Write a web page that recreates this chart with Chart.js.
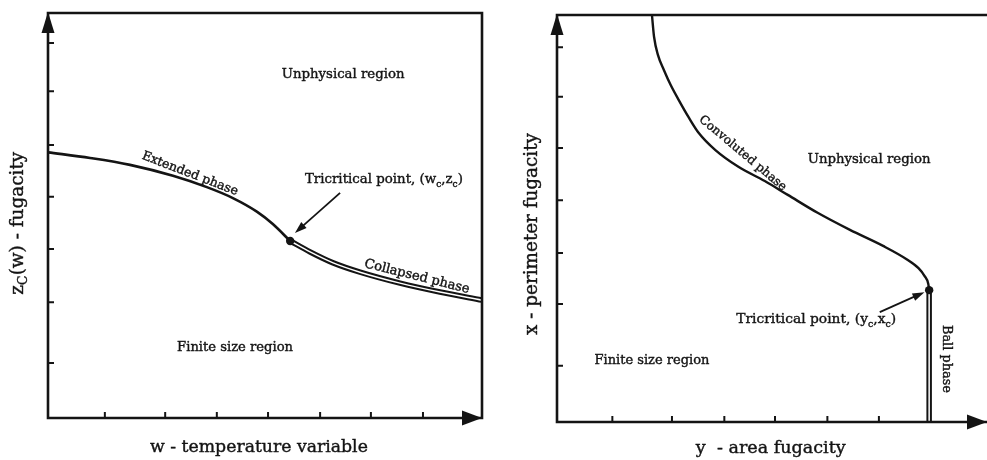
<!DOCTYPE html>
<html><head><meta charset="utf-8">
<script src="https://cdn.jsdelivr.net/npm/chart.js@4.4.0/dist/chart.umd.min.js"></script>
<style>
html,body{margin:0;padding:0;background:#fff;}
#wrap{position:relative;width:987px;height:460px;overflow:hidden;background:#fff;}
.pane{position:absolute;top:0;height:460px;}
</style></head><body>
<div id="wrap">
<div class="pane" style="left:0;width:490px"><canvas id="left"></canvas></div>
<div class="pane" style="left:490px;width:497px"><canvas id="right"></canvas></div>
</div>
<script>
// ---------- Left panel: z_c(w) versus w (arbitrary units) ----------
const wExtended  = [0.00, 0.97, 1.89, 2.88, 3.66, 4.26, 4.82, 5.18, 5.58];
const zExtended  = [6.56, 6.42, 6.25, 5.98, 5.70, 5.43, 5.09, 4.79, 4.37];
const wCollapsed = [5.58, 6.04, 6.57, 7.19, 8.11, 9.03, 10.0];
const zCollapsed = [4.37, 4.10, 3.83, 3.60, 3.33, 3.11, 2.91];
const wTricritical = [5.58];
const zTricritical = [4.37];
const wTicks = [1.31, 2.70, 3.89, 5.07, 6.27, 7.44, 8.64];
const zTicks = [1.36, 2.86, 4.17, 5.46, 6.74, 8.07, 9.26];

// ---------- Right panel: x (perimeter fugacity) versus y (area fugacity) ----------
const areaConvoluted      = [2.23, 2.28, 2.37, 2.51, 2.67, 2.86, 3.09, 3.33, 3.72, 4.26, 4.88, 5.42, 6.12, 6.88, 7.67, 8.21, 8.49, 8.63, 8.72, 8.74];
const perimeterConvoluted = [10.0, 9.46, 9.02, 8.65, 8.28, 7.91, 7.49, 7.10, 6.68, 6.27, 5.92, 5.58, 5.14, 4.72, 4.32, 4.00, 3.78, 3.59, 3.39, 3.24];
const areaBall      = [8.74, 8.74];
const perimeterBall = [3.24, 0.00];
const areaTricritical      = [8.74];
const perimeterTricritical = [3.24];
const areaTicks      = [1.30, 2.70, 3.93, 5.12, 6.35, 7.56];
const perimeterTicks = [1.38, 2.90, 4.15, 5.45, 6.73, 7.99, 9.21];

const INK = '#141414';
const pts = (xs, ys) => xs.map((v, i) => ({x: v, y: ys[i]}));

// rich text (supports subscripts), fitted to a target width
function richWidth(ctx, parts, size, family) {
  let w = 0;
  for (const [t, sub] of parts) {
    ctx.font = `${sub ? size * 0.68 : size}px ${family}`;
    w += ctx.measureText(t).width;
  }
  return w;
}
function drawRich(ctx, lab, px, py) {
  const family = lab.family;
  const base = richWidth(ctx, lab.parts, 20, family);
  const size = 20 * lab.w / base;
  const W = richWidth(ctx, lab.parts, size, family);
  ctx.save();
  ctx.translate(px, py);
  ctx.rotate((lab.rot || 0) * Math.PI / 180);
  ctx.textBaseline = 'middle';
  ctx.textAlign = 'left';
  ctx.fillStyle = INK;
  ctx.strokeStyle = INK;
  ctx.lineWidth = 0.4;
  let cx = lab.align === 'left' ? 0 : -W / 2;
  for (const [t, sub] of lab.parts) {
    const s = sub ? size * 0.68 : size;
    ctx.font = `${s}px ${family}`;
    const yy = sub ? size * 0.32 : 0;
    ctx.fillText(t, cx, yy);
    ctx.strokeText(t, cx, yy);
    cx += ctx.measureText(t).width;
  }
  ctx.restore();
}

const paperFigure = {
  id: 'paperFigure',
  afterDatasetsDraw(chart, args, o) {
    const {ctx, chartArea: a, scales: {x, y}} = chart;
    ctx.save();
    ctx.strokeStyle = INK; ctx.fillStyle = INK;
    ctx.lineWidth = 2.6; ctx.lineCap = 'square';
    ctx.beginPath();
    ctx.moveTo(a.left, a.bottom); ctx.lineTo(a.left, a.top);
    if (o.closed) {
      ctx.lineTo(a.right, a.top); ctx.lineTo(a.right, a.bottom); ctx.lineTo(a.left, a.bottom);
    } else {
      ctx.moveTo(a.left, a.top); ctx.lineTo(chart.width, a.top);
      ctx.moveTo(a.left, a.bottom); ctx.lineTo(chart.width, a.bottom);
    }
    ctx.stroke();
    // inward tick marks
    ctx.lineWidth = 2; ctx.lineCap = 'butt';
    ctx.beginPath();
    for (const v of o.xTicks) { const p = x.getPixelForValue(v); ctx.moveTo(p, a.bottom); ctx.lineTo(p, a.bottom - 6); }
    for (const v of o.yTicks) { const p = y.getPixelForValue(v); ctx.moveTo(a.left, p); ctx.lineTo(a.left + 6, p); }
    ctx.stroke();
    // arrow heads on axes
    ctx.beginPath();
    ctx.moveTo(a.left, a.top - 1); ctx.lineTo(a.left - 6.5, a.top + 20); ctx.lineTo(a.left + 6.5, a.top + 20); ctx.closePath();
    ctx.fill();
    const tipX = o.closed ? a.right : chart.width;
    ctx.beginPath();
    ctx.moveTo(tipX, a.bottom); ctx.lineTo(tipX - 20, a.bottom - 7.5); ctx.lineTo(tipX - 20, a.bottom + 7.5); ctx.closePath();
    ctx.fill();
    // pointer arrows
    for (const ar of o.arrows) {
      const x1 = x.getPixelForValue(ar.x1), y1 = y.getPixelForValue(ar.y1);
      const x2 = x.getPixelForValue(ar.x2), y2 = y.getPixelForValue(ar.y2);
      const ang = Math.atan2(y2 - y1, x2 - x1);
      ctx.lineWidth = 1.8;
      ctx.beginPath(); ctx.moveTo(x1, y1);
      ctx.lineTo(x2 - 8 * Math.cos(ang), y2 - 8 * Math.sin(ang)); ctx.stroke();
      ctx.beginPath();
      ctx.moveTo(x2, y2);
      ctx.lineTo(x2 - 12 * Math.cos(ang) + 4 * Math.sin(ang), y2 - 12 * Math.sin(ang) - 4 * Math.cos(ang));
      ctx.lineTo(x2 - 12 * Math.cos(ang) - 4 * Math.sin(ang), y2 - 12 * Math.sin(ang) + 4 * Math.cos(ang));
      ctx.closePath(); ctx.fill();
    }
    ctx.restore();
    for (const lab of o.labels) drawRich(ctx, lab, x.getPixelForValue(lab.x), y.getPixelForValue(lab.y));
  }
};

function makeChart(id, datasets, padding, fig) {
  return new Chart(document.getElementById(id), {
    type: 'scatter',
    data: {datasets},
    options: {
      responsive: true, maintainAspectRatio: false, animation: false,
      layout: {padding},
      scales: {
        x: {type: 'linear', min: 0, max: 10, display: false},
        y: {type: 'linear', min: 0, max: 10, display: false}
      },
      elements: {point: {radius: 0}},
      plugins: {legend: {display: false}, tooltip: {enabled: false}, paperFigure: fig}
    },
    plugins: [paperFigure]
  });
}

const curve = (data, width, color, order) => ({
  data, showLine: true, borderColor: color, borderWidth: width, pointRadius: 0,
  cubicInterpolationMode: 'monotone', order, borderCapStyle: 'butt'
});
const dot = (data) => ({data, showLine: false, pointRadius: 4.2, pointBackgroundColor: INK, pointBorderWidth: 0, order: 0});

const SERIF = '"DejaVu Serif", serif';

makeChart('left', [
  dot(pts(wTricritical, zTricritical)),
  curve(pts(wCollapsed, zCollapsed), 1.5, '#fff', 1),
  curve(pts(wCollapsed, zCollapsed), 5.5, INK, 2),
  curve(pts(wExtended, zExtended), 2.6, INK, 3)
], {left: 48, top: 13, right: 8, bottom: 42}, {
  closed: true, xTicks: wTicks, yTicks: zTicks,
  arrows: [{x1: 6.73, y1: 5.56, x2: 5.69, y2: 4.57}],
  labels: [
    {parts: [['Unphysical region']], x: 6.80, y: 8.49, w: 123, family: SERIF},
    {parts: [['Extended phase']], x: 3.27, y: 6.03, w: 102, rot: 21, family: SERIF},
    {parts: [['Collapsed phase']], x: 8.50, y: 3.49, w: 108, rot: 14, family: SERIF},
    {parts: [['Tricritical point, (w'], ['c', 1], [','], ['z'], ['c', 1], [')']], x: 5.92, y: 5.88, w: 158, align: 'left', family: SERIF},
    {parts: [['Finite size region']], x: 4.31, y: 1.73, w: 116, family: SERIF},
    {parts: [['w - temperature variable']], x: 4.86, y: -0.72, w: 218, family: SERIF},
    {parts: [['z'], ['C', 1], ['(w) - fugacity']], x: -0.69, y: 4.81, w: 143, rot: -90, family: SERIF}
  ]
});

makeChart('right', [
  dot(pts(areaTricritical, perimeterTricritical)),
  curve(pts(areaBall, perimeterBall), 1.5, '#fff', 1),
  curve(pts(areaBall, perimeterBall), 5.5, INK, 2),
  curve(pts(areaConvoluted, perimeterConvoluted), 2.4, INK, 3)
], {left: 67, top: 15, right: 0, bottom: 38}, {
  closed: false, xTicks: areaTicks, yTicks: perimeterTicks,
  arrows: [{x1: 7.58, y1: 2.70, x2: 8.63, y2: 3.19}],
  labels: [
    {parts: [['Unphysical region']], x: 7.33, y: 6.44, w: 123, family: SERIF},
    {parts: [['Convoluted phase']], x: 4.36, y: 6.60, w: 110, rot: 40, family: SERIF},
    {parts: [['Tricritical point, (y'], ['c', 1], [','], ['x'], ['c', 1], [')']], x: 4.21, y: 2.51, w: 160, align: 'left', family: SERIF},
    {parts: [['Ball phase']], x: 9.14, y: 1.55, w: 68, rot: 90, family: SERIF},
    {parts: [['Finite size region']], x: 2.23, y: 1.52, w: 115, family: SERIF},
    {parts: [['y  - area fugacity']], x: 5.02, y: -0.64, w: 150, family: SERIF},
    {parts: [['x - perimeter fugacity']], x: -0.58, y: 4.62, w: 202, rot: -90, family: SERIF}
  ]
});
</script>
</body></html>
